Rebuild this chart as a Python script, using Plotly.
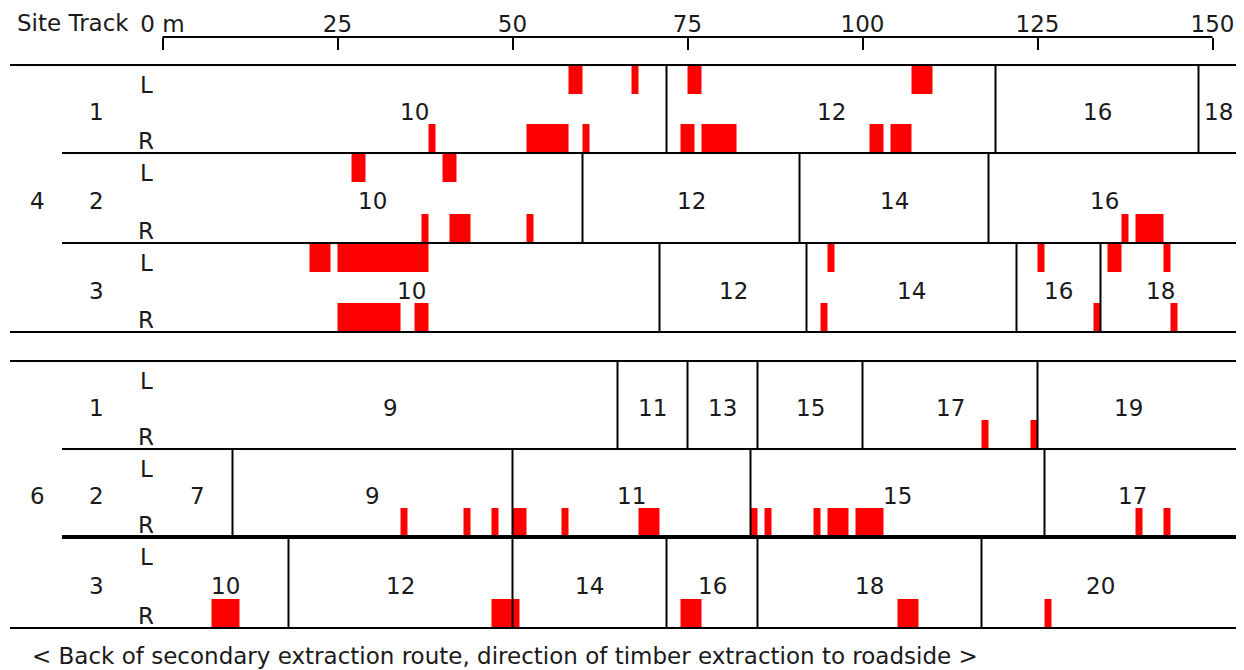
import plotly.graph_objects as go

# ---------------- data ----------------
scale_ticks = [0, 25, 50, 75, 100, 125, 150]
scale_labels = ["0 m", "25", "50", "75", "100", "125", "150"]

site_names = ["4", "6"]
track_names = ["1", "2", "3"]

# segment start positions (m) and segment numbers, per site / track
s4t1_seg_start = [0, 72, 119, 148]
s4t1_seg_label = ["10", "12", "16", "18"]
s4t2_seg_start = [0, 60, 91, 118]
s4t2_seg_label = ["10", "12", "14", "16"]
s4t3_seg_start = [0, 71, 92, 122, 134]
s4t3_seg_label = ["10", "12", "14", "16", "18"]
s6t1_seg_start = [0, 65, 75, 85, 100, 125]
s6t1_seg_label = ["9", "11", "13", "15", "17", "19"]
s6t2_seg_start = [0, 10, 50, 84, 126]
s6t2_seg_label = ["7", "9", "11", "15", "17"]
s6t3_seg_start = [0, 18, 50, 72, 85, 117]
s6t3_seg_label = ["10", "12", "14", "16", "18", "20"]

# track lengths (m)
s4_track_length = [153.6, 151, 151]
s6_track_length = [151, 151, 151]

# damaged stretches [from, to] (m), left (L) and right (R) side
s4t1_L = [[58, 60], [67, 68], [75, 77], [107, 110]]
s4t1_R = [[38, 39], [52, 58], [60, 61], [74, 76], [77, 82], [101, 103], [104, 107]]
s4t2_L = [[27, 29], [40, 42]]
s4t2_R = [[37, 38], [41, 44], [52, 53], [137, 138], [139, 143]]
s4t3_L = [[21, 24], [25, 38], [95, 96], [125, 126], [135, 137], [143, 144]]
s4t3_R = [[25, 34], [36, 38], [94, 95], [133, 134], [144, 145]]
s6t1_L = []
s6t1_R = [[117, 118], [124, 125]]
s6t2_L = []
s6t2_R = [[34, 35], [43, 44], [47, 48], [50, 52], [57, 58], [68, 71], [84, 85],
          [86, 87], [93, 94], [95, 98], [99, 103], [139, 140], [143, 144]]
s6t3_L = []
s6t3_R = [[7, 11], [47, 51], [74, 77], [105, 108], [126, 127]]

# ---------------- layout helpers ----------------
PAGE_W, PAGE_H = 1244, 670
BODY = 8                               # default page margin around the figure
W, H = PAGE_W - BODY, PAGE_H - BODY
PX0, PXM = 162.5, 7.0                  # page pixel of 0 m, pixels per metre


def mx(px):                            # page pixel -> metres
    return (px - PX0) / PXM


X_MIN, X_MAX = mx(BODY), mx(PAGE_W)
ROW_EDGES = {"4": [65, 153, 243, 332], "6": [361, 449, 537, 628]}
BAND = 29
FONT = "DejaVu Sans"
FS = 23
TXT = "#1a1a1a"
X_LEFT_FULL = mx(10)
X_LEFT_TRACK = mx(62)
X_RIGHT = mx(1238)
X_LR = mx(146)
X_TRACKNO = mx(96)
X_SITENO = mx(37)

tracks = {
    "4": [(s4t1_seg_start, s4t1_seg_label, s4t1_L, s4t1_R),
          (s4t2_seg_start, s4t2_seg_label, s4t2_L, s4t2_R),
          (s4t3_seg_start, s4t3_seg_label, s4t3_L, s4t3_R)],
    "6": [(s6t1_seg_start, s6t1_seg_label, s6t1_L, s6t1_R),
          (s6t2_seg_start, s6t2_seg_label, s6t2_L, s6t2_R),
          (s6t3_seg_start, s6t3_seg_label, s6t3_L, s6t3_R)],
}
lengths = {"4": s4_track_length, "6": s6_track_length}

shapes, annotations = [], []
bar_base, bar_len, bar_y = [], [], []


def hline(y, x0, x1, w=2):
    shapes.append(dict(type="line", xref="x", yref="y", x0=x0, x1=x1, y0=y, y1=y,
                       line=dict(color="black", width=w)))


def text(x, y, s, xanchor="center"):
    annotations.append(dict(x=x, y=y, xref="x", yref="y", text=s, showarrow=False,
                            xanchor=xanchor, yanchor="middle",
                            font=dict(family=FONT, size=FS, color=TXT)))


for site in site_names:
    edges = ROW_EDGES[site]
    hline(edges[0], X_LEFT_FULL, X_RIGHT)
    for ti, tname in enumerate(track_names):
        seg_start, seg_label, L, R = tracks[site][ti]
        top, bot = edges[ti], edges[ti + 1]
        mid = (top + bot) / 2 + 3
        last = ti == len(track_names) - 1
        thick = (site == "6" and ti == 1)
        hline(bot, X_LEFT_FULL if last else X_LEFT_TRACK, X_RIGHT, 4 if thick else 2)
        # segment borders and numbers
        ends = seg_start[1:] + [lengths[site][ti]]
        for s, e, lab in zip(seg_start, ends, seg_label):
            if s > 0:
                shapes.append(dict(type="line", xref="x", yref="y", x0=s, x1=s,
                                   y0=top, y1=bot, line=dict(color="black", width=2)))
            text((s + e) / 2, mid, lab)
        # side / track labels
        text(X_LR, top + 20, "L")
        text(X_LR, bot - 12, "R")
        text(X_TRACKNO, mid, tname)
        if ti == 1:
            text(X_SITENO, mid, site)
        # damage bars
        for a, b in L:
            bar_base.append(a); bar_len.append(b - a); bar_y.append(top + BAND / 2)
        for a, b in R:
            bar_base.append(a); bar_len.append(b - a); bar_y.append(bot - BAND / 2)

# header / footer texts
text(mx(15), 23, "Site Track", xanchor="left")
text(mx(30), 656,
     "< Back of secondary extraction route, direction of timber extraction to roadside >",
     xanchor="left")

# scale line of the metre axis
SCALE_Y = 37
shapes.append(dict(type="line", xref="x", yref="y", x0=scale_ticks[0], x1=scale_ticks[-1],
                   y0=SCALE_Y, y1=SCALE_Y, line=dict(color="black", width=2)))

fig = go.Figure()
fig.add_trace(go.Bar(orientation="h", base=bar_base, x=bar_len, y=bar_y, width=BAND,
                     marker=dict(color="#ff0000", line=dict(width=0)),
                     hoverinfo="skip", showlegend=False))

fig.update_layout(
    width=W, height=H,
    margin=dict(l=0, r=0, t=0, b=0),
    paper_bgcolor="white", plot_bgcolor="white",
    showlegend=False,
    shapes=shapes, annotations=annotations,
    xaxis=dict(range=[X_MIN, X_MAX], side="top", anchor="free",
               position=1 - (SCALE_Y - BODY) / H,
               showline=False, showgrid=False, zeroline=False,
               tickmode="array", tickvals=scale_ticks, ticktext=scale_labels,
               ticks="inside", ticklen=12, tickwidth=2, tickcolor="black",
               ticklabelstandoff=0,
               tickfont=dict(family=FONT, size=FS, color=TXT), fixedrange=True),
    yaxis=dict(range=[PAGE_H, BODY], visible=False, showgrid=False, zeroline=False,
               fixedrange=True),
)

fig.write_html("out.html")
